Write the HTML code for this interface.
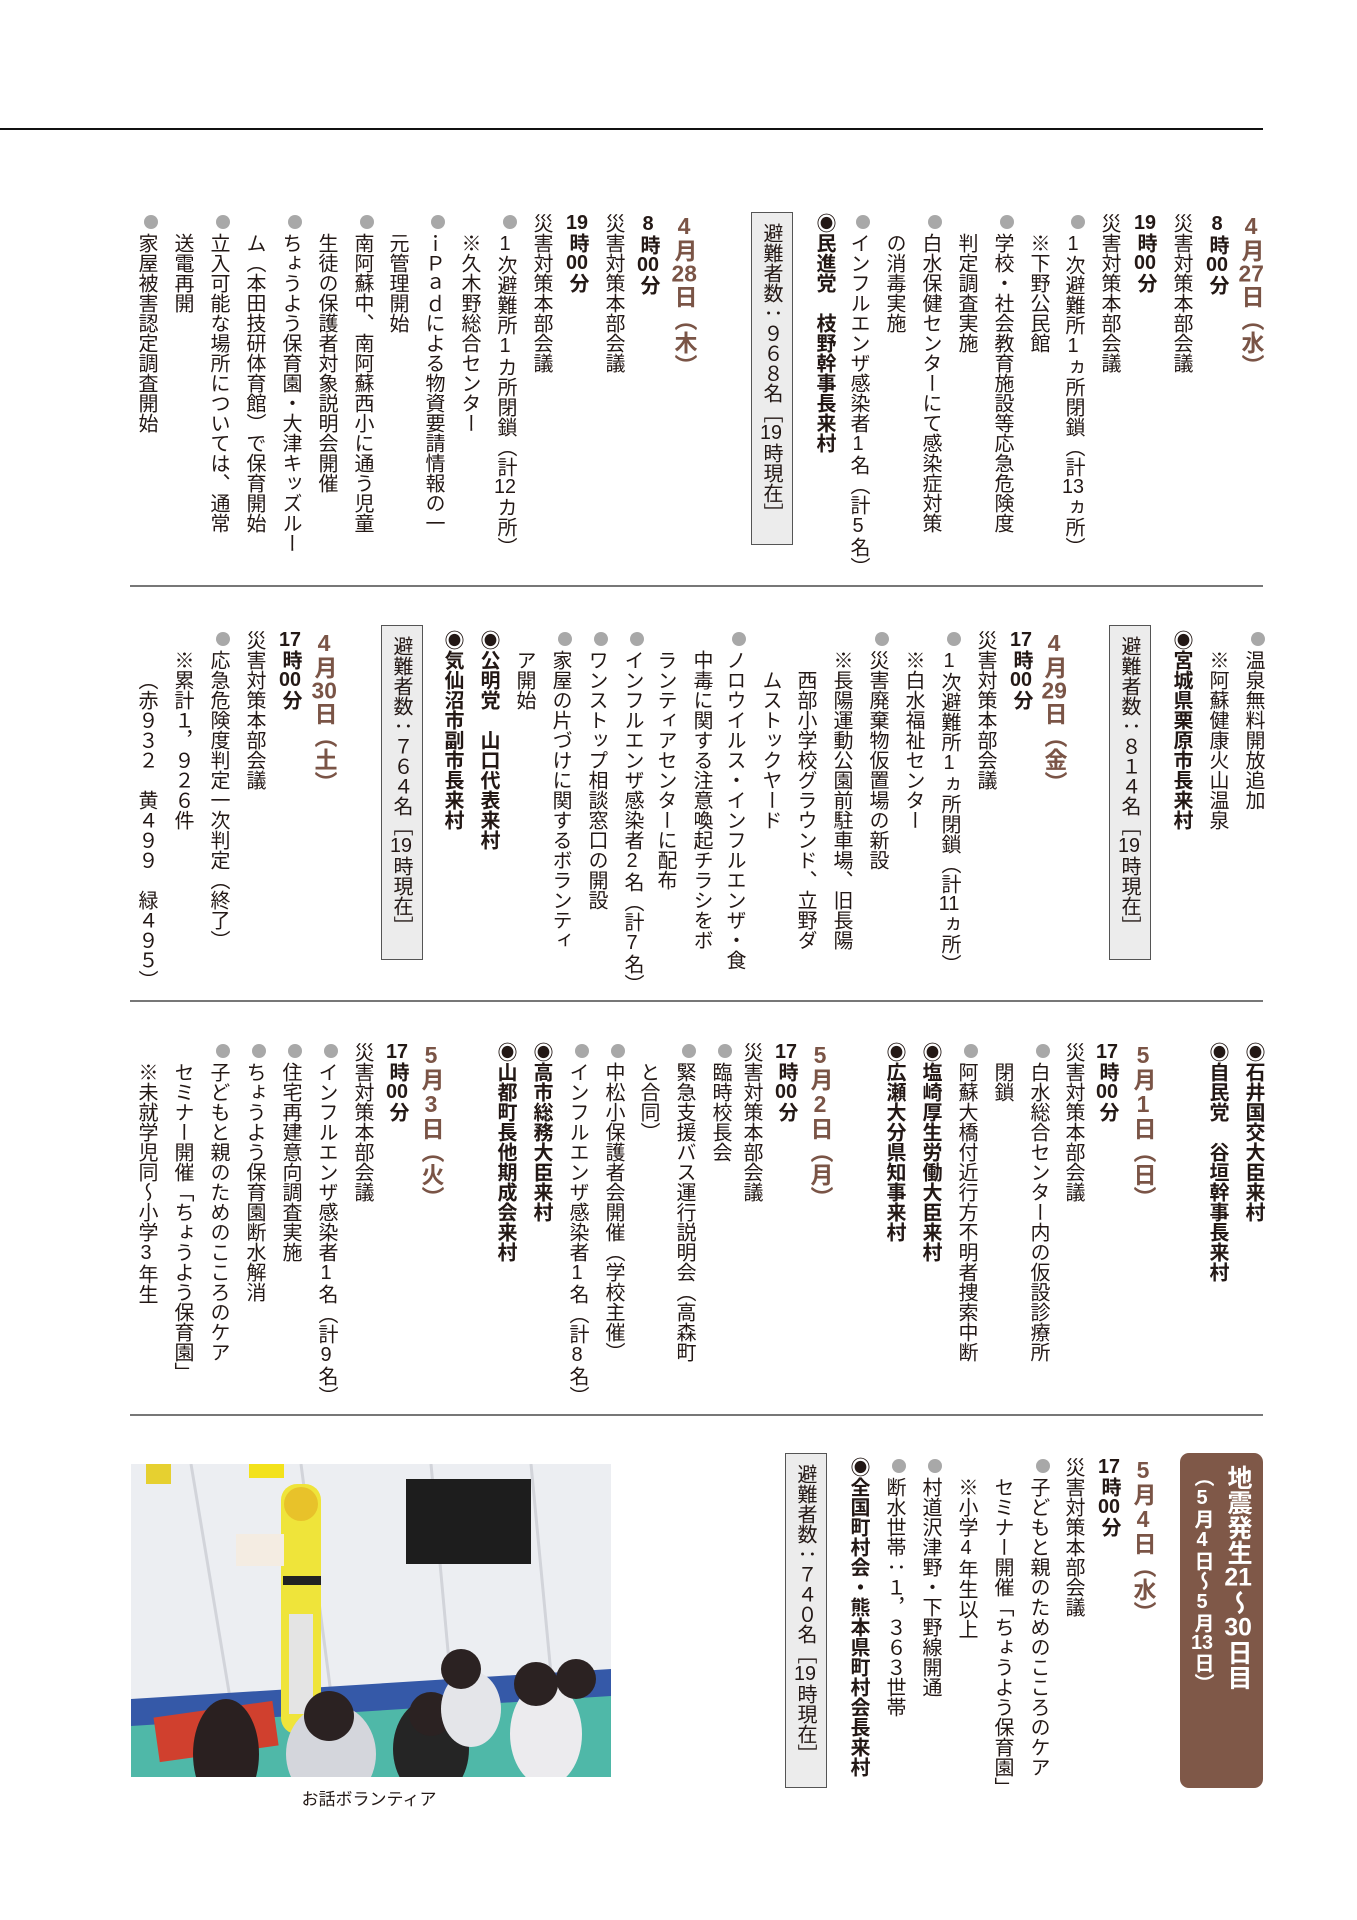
<!DOCTYPE html>
<html lang="ja"><head><meta charset="utf-8">
<style>
html,body{margin:0;padding:0;background:#fff}
#page{position:relative;width:1357px;height:1920px;overflow:hidden;background:#fff;font-family:"Liberation Sans","Noto Sans CJK JP",sans-serif;color:#231815}
.col{position:absolute;writing-mode:vertical-rl;text-orientation:upright;width:36px;font-size:20px;line-height:36px;white-space:nowrap;text-align:start}
.t{text-combine-upright:all}
.date{color:#7a5446;font-weight:bold;font-size:23px}
.time{font-weight:bold}
.vip{font-weight:bold}
.dot{display:inline-block;width:14px;height:14px;border-radius:50%;background:#a8a8a8;margin:2px 0 4px 0;vertical-align:middle}
.box{position:absolute;writing-mode:vertical-rl;text-orientation:upright;width:42px;background:#ececec;border:1.5px solid #555;font-size:20px;line-height:42px;box-sizing:border-box;padding-top:10px;white-space:nowrap}
.hline{position:absolute;height:2px;background:#777}
.brown{position:absolute;left:1180px;top:1453px;width:83px;height:335px;background:#7f5848;border-radius:9px;color:#fff}
</style></head><body>
<div id="page">
<div class="hline" style="left:0;top:128px;width:1263px;background:#111"></div>
<div class="hline" style="left:130px;top:585px;width:1133px"></div>
<div class="hline" style="left:130px;top:1000px;width:1133px"></div>
<div class="hline" style="left:130px;top:1414px;width:1133px"></div>

<div class="brown">
  <div class="col" style="left:40px;top:12px;font-size:25px;font-weight:bold;width:36px">地震発生<span class="t">21</span>～<span class="t">30</span>日目</div>
  <div class="col" style="left:4px;top:14px;font-size:20px;font-weight:bold">（5月4日～5月<span class="t">13</span>日）</div>
</div>

<svg style="position:absolute;left:131px;top:1464px" width="480" height="313">
  <rect width="480" height="313" fill="#eceef2"/>
  <path d="M60 0 L100 240 M170 0 L200 230 M300 0 L320 220 M400 0 L420 210" stroke="#d2d4da" stroke-width="3"/>
  <path d="M0 235 L480 205 L480 313 L0 313Z" fill="#3559a8"/>
  <path d="M0 262 L480 232 L480 313 L0 313Z" fill="#4fb8a8"/>
  <rect x="25" y="245" width="120" height="45" fill="#d0402e" transform="rotate(-8 85 267)"/>
  <rect x="275" y="15" width="125" height="85" fill="#1d1d1d"/>
  <rect x="118" y="0" width="35" height="14" fill="#f3e21b"/>
  <rect x="15" y="0" width="25" height="20" fill="#e6d030"/>
  <rect x="150" y="20" width="40" height="250" rx="16" fill="#efe43a"/>
  <rect x="158" y="150" width="24" height="100" fill="#e4e4e4"/>
  <circle cx="170" cy="40" r="17" fill="#e8c22a"/>
  <rect x="105" y="70" width="48" height="32" fill="#f4ece2"/>
  <rect x="152" y="112" width="38" height="9" fill="#222"/>
  <ellipse cx="95" cy="290" rx="33" ry="55" fill="#2a2020"/>
  <ellipse cx="200" cy="290" rx="45" ry="50" fill="#d4d6dc"/>
  <circle cx="198" cy="252" r="25" fill="#2b2222"/>
  <ellipse cx="300" cy="285" rx="38" ry="50" fill="#252525"/>
  <circle cx="300" cy="250" r="22" fill="#2b2222"/>
  <ellipse cx="340" cy="245" rx="30" ry="38" fill="#e4e5e9"/>
  <circle cx="330" cy="205" r="20" fill="#2b2222"/>
  <ellipse cx="415" cy="270" rx="36" ry="52" fill="#ecebee"/>
  <circle cx="405" cy="220" r="22" fill="#2b2222"/>
  <circle cx="445" cy="215" r="20" fill="#2b2222"/>
</svg>
<div style="position:absolute;left:269px;top:1785px;width:200px;text-align:center;font-size:17px">お話ボランティア</div>
</div>
<script>
const rows=[
 {top:213,cols:[
  [1251,'4月27日（水）','date'],[1217,'8時00分','time'],[1181,'災害対策本部会議','plain'],[1145,'19時00分','time'],[1109,'災害対策本部会議','plain'],
  [1073,'1次避難所1ヵ所閉鎖（計13ヵ所）','bullet'],[1038,'※下野公民館','ind'],[1002,'学校・社会教育施設等応急危険度','bullet'],[966,'判定調査実施','ind'],
  [930,'白水保健センターにて感染症対策','bullet'],[894,'の消毒実施','ind'],[858,'インフルエンザ感染者1名（計5名）','bullet'],[824,'民進党　枝野幹事長来村','vip'],
  [684,'4月28日（木）','date'],[648,'8時00分','time'],[613,'災害対策本部会議','plain'],[577,'19時00分','time'],[541,'災害対策本部会議','plain'],
  [505,'1次避難所1カ所閉鎖（計12カ所）','bullet'],[469,'※久木野総合センター','ind'],[433,'ｉＰａｄによる物資要請情報の一','bullet'],[397,'元管理開始','ind'],
  [362,'南阿蘇中、南阿蘇西小に通う児童','bullet'],[326,'生徒の保護者対象説明会開催','ind'],[290,'ちょうよう保育園・大津キッズルー','bullet'],[254,'ム（本田技研体育館）で保育開始','ind'],
  [218,'立入可能な場所については、通常','bullet'],[182,'送電再開','ind'],[146,'家屋被害認定調査開始','bullet']]},
 {top:630,cols:[
  [1253,'温泉無料開放追加','bullet'],[1217,'※阿蘇健康火山温泉','ind'],[1181,'宮城県栗原市長来村','vip'],
  [1054,'4月29日（金）','date'],[1021,'17時00分','time'],[985,'災害対策本部会議','plain'],[949,'1次避難所1ヵ所閉鎖（計11ヵ所）','bullet'],[913,'※白水福祉センター','ind'],
  [877,'災害廃棄物仮置場の新設','bullet'],[841,'※長陽運動公園前駐車場、旧長陽','ind'],[805,'西部小学校グラウンド、立野ダ','ind2'],[770,'ムストックヤード','ind2'],
  [734,'ノロウイルス・インフルエンザ・食','bullet'],[701,'中毒に関する注意喚起チラシをボ','ind'],[665,'ランティアセンターに配布','ind'],[632,'インフルエンザ感染者2名（計7名）','bullet'],
  [596,'ワンストップ相談窓口の開設','bullet'],[560,'家屋の片づけに関するボランティ','bullet'],[524,'ア開始','ind'],[488,'公明党　山口代表来村','vip'],[452,'気仙沼市副市長来村','vip'],
  [324,'4月30日（土）','date'],[290,'17時00分','time'],[254,'災害対策本部会議','plain'],[218,'応急危険度判定一次判定（終了）','bullet'],[182,'※累計１，９２６件','ind'],[146,'（赤９３２　黄４９９　緑４９５）','ind2']]},
 {top:1042,cols:[
  [1253,'石井国交大臣来村','vip'],[1217,'自民党　谷垣幹事長来村','vip'],[1143,'5月1日（日）','date'],[1107,'17時00分','time'],[1073,'災害対策本部会議','plain'],
  [1038,'白水総合センター内の仮設診療所','bullet'],[1002,'閉鎖','ind'],[966,'阿蘇大橋付近行方不明者捜索中断','bullet'],[930,'塩崎厚生労働大臣来村','vip'],[894,'広瀬大分県知事来村','vip'],
  [820,'5月2日（月）','date'],[786,'17時00分','time'],[751,'災害対策本部会議','plain'],[720,'臨時校長会','bullet'],[684,'緊急支援バス運行説明会（高森町','bullet'],[648,'と合同）','ind'],
  [613,'中松小保護者会開催（学校主催）','bullet'],[577,'インフルエンザ感染者1名（計8名）','bullet'],[541,'高市総務大臣来村','vip'],[505,'山都町長他期成会来村','vip'],
  [431,'5月3日（火）','date'],[397,'17時00分','time'],[362,'災害対策本部会議','plain'],[326,'インフルエンザ感染者1名（計9名）','bullet'],[290,'住宅再建意向調査実施','bullet'],
  [254,'ちょうよう保育園断水解消','bullet'],[218,'子どもと親のためのこころのケア','bullet'],[182,'セミナー開催「ちょうよう保育園」','ind'],[146,'※未就学児同～小学3年生','ind']]},
 {top:1457,cols:[
  [1143,'5月4日（水）','date'],[1109,'17時00分','time'],[1073,'災害対策本部会議','plain'],[1038,'子どもと親のためのこころのケア','bullet'],[1002,'セミナー開催「ちょうよう保育園」','ind'],
  [966,'※小学4年生以上','ind'],[930,'村道沢津野・下野線開通','bullet'],[894,'断水世帯：１，３６３世帯','bullet'],[858,'全国町村会・熊本県町村会長来村','vip']]}
];
const boxes=[[773,212,545,'避難者数：９６８名［19時現在］'],[1131,625,960,'避難者数：８１４名［19時現在］'],[403,625,960,'避難者数：７６４名［19時現在］'],[807,1453,1788,'避難者数：７４０名［19時現在］']];
const page=document.getElementById('page');
function tcy(s){return s.replace(/(\d{2})/g,'<span class="t">$1</span>');}
rows.forEach(r=>{r.cols.forEach(c=>{
  const d=document.createElement('div');
  d.className='col';
  let top=r.top, html=tcy(c[1]);
  if(c[2]==='date'){d.classList.add('date');}
  else if(c[2]==='time'){d.classList.add('time');}
  else if(c[2]==='vip'){d.classList.add('vip');html='◉'+html;}
  else if(c[2]==='bullet'){html='<span class="dot"></span>'+html;}
  else if(c[2]==='ind'){top+=20;}
  else if(c[2]==='ind2'){top+=40;}
  else {}
  
  d.style.left=(c[0]-18)+'px';d.style.top=top+'px';
  d.innerHTML=html;page.appendChild(d);
});});
boxes.forEach(b=>{
  const d=document.createElement('div');d.className='box';
  
  
  d.style.left=(b[0]-22)+'px';d.style.top=b[1]+'px';d.style.height=(b[2]-b[1])+'px';
  d.innerHTML=tcy(b[3]);page.appendChild(d);
});
</script>
</body></html>
